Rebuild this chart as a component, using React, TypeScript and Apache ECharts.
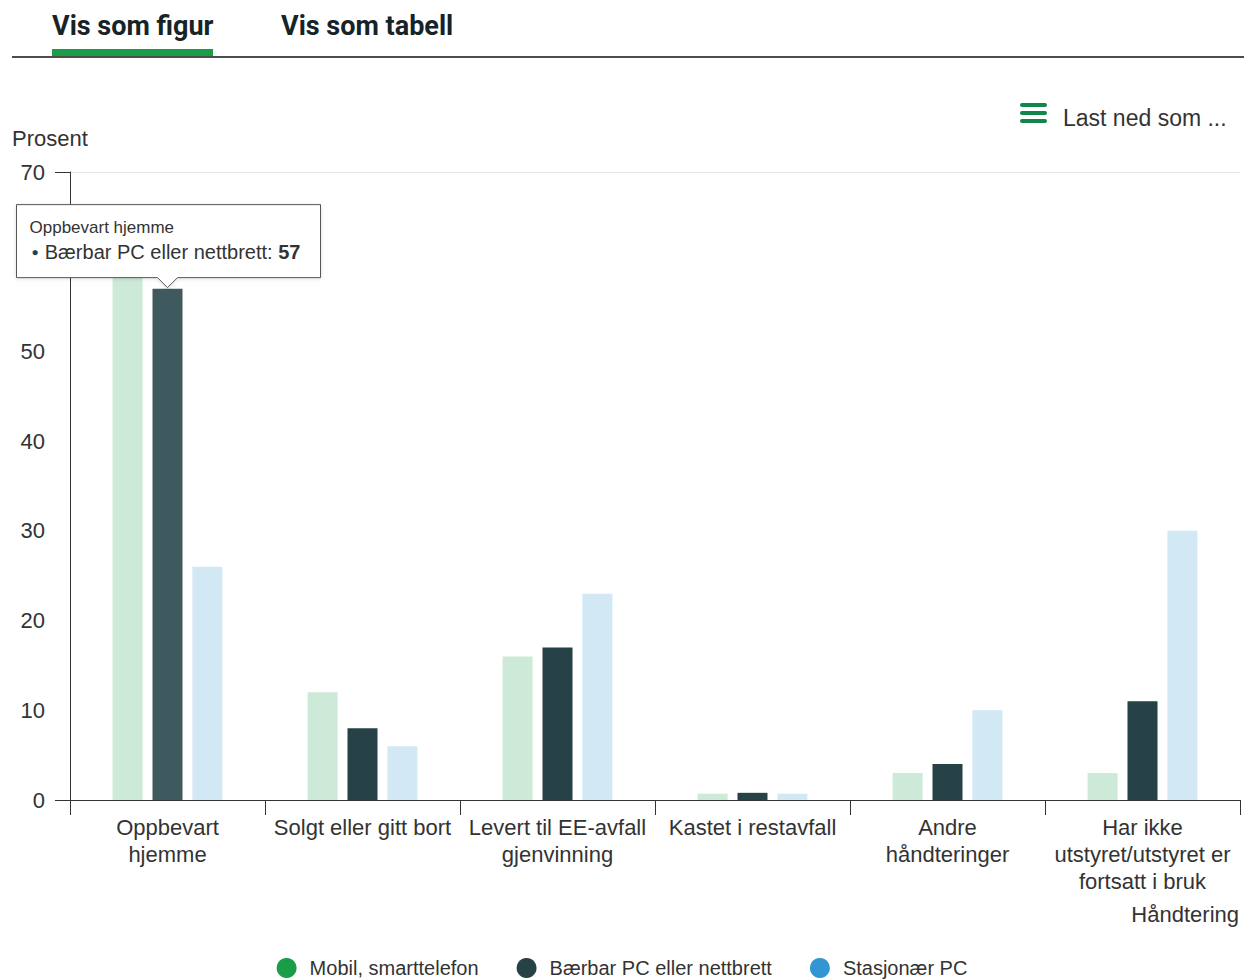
import React, { useEffect, useRef } from "react";
import * as echarts from "echarts";

const categories = [
  "Oppbevart hjemme",
  "Solgt eller gitt bort",
  "Levert til EE-avfall gjenvinning",
  "Kastet i restavfall",
  "Andre håndteringer",
  "Har ikke utstyret/utstyret er fortsatt i bruk",
];
const categoryLabels = [
  "Oppbevart\nhjemme",
  "Solgt eller gitt bort",
  "Levert til EE-avfall\ngjenvinning",
  "Kastet i restavfall",
  "Andre\nhåndteringer",
  "Har ikke\nutstyret/utstyret er\nfortsatt i bruk",
];
const seriesNames = ["Mobil, smarttelefon", "Bærbar PC eller nettbrett", "Stasjonær PC"];
const mobil = [62, 12, 16, 0.7, 3, 3];
const baerbar = [57, 8, 17, 0.8, 4, 11];
const stasjonaer = [26, 6, 23, 0.7, 10, 30];
const colors = ["#1a9d49", "#274247", "#3396d2"];
const yMin = 0;
const yMax = 70;
const yInterval = 10;

const hoverSeries = 1;
const hoverIndex = 0;

const FONT = "'Liberation Sans', Arial, sans-serif";

export default function App() {
  const ref = useRef<HTMLDivElement>(null);
  useEffect(() => {
    document.body.style.margin = "0";
    const chart = echarts.init(ref.current!, null, { renderer: "svg" });
    const values = [mobil, baerbar, stasjonaer];
    chart.setOption({
      animation: false,
      color: colors,
      textStyle: { fontFamily: FONT },
      grid: { left: 70, right: 4, top: 172, bottom: 180, outerBoundsMode: "none", containLabel: false },
      legend: {
        data: seriesNames,
        top: 953,
        left: "center",
        icon: "circle",
        itemWidth: 20,
        itemHeight: 20,
        itemGap: 38,
        selectedMode: false,
        textStyle: { fontSize: 20, color: "#333", fontFamily: FONT, padding: [0, 0, 0, 8] },
      },
      xAxis: {
        type: "category",
        data: categories,
        axisLine: { show: true, lineStyle: { color: "#333", width: 1 } },
        axisTick: { show: true, interval: 0, length: 15, lineStyle: { color: "#333" } },
        axisLabel: {
          interval: 0,
          margin: 14,
          fontSize: 22,
          lineHeight: 27,
          color: "#333",
          fontFamily: FONT,
          formatter: (_v: string, i: number) => categoryLabels[i],
        },
      },
      yAxis: {
        type: "value",
        min: yMin,
        max: yMax,
        interval: yInterval,
        axisLine: { show: true, lineStyle: { color: "#333", width: 1 } },
        axisTick: { show: true, length: 15, customValues: [yMin, yMax], lineStyle: { color: "#333" } },
        axisLabel: { margin: 25, fontSize: 22, color: "#333", fontFamily: FONT },
        splitLine: { show: true, lineStyle: { color: "#e6e6e6", width: 1 } },
      },
      series: values.map((v, si) => ({
        type: "bar",
        name: seriesNames[si],
        data: v,
        barWidth: 30,
        barGap: "33%",
        itemStyle: { color: colors[si] },
        emphasis: { focus: "series", itemStyle: { color: si === 1 ? "#3e5a5f" : colors[si] } },
        blur: { itemStyle: { opacity: 0.22 } },
      })),
    });

    const staticGraphic = [
      { type: "text", left: 52, top: 12, style: { text: "Vis som figur", fontFamily: "Roboto", fontWeight: "bold", fontSize: 27, fill: "#162327" } },
      { type: "text", left: 281, top: 12, style: { text: "Vis som tabell", fontFamily: "Roboto", fontWeight: "bold", fontSize: 27, fill: "#162327" } },
      { type: "rect", shape: { x: 12, y: 56, width: 1232, height: 2 }, style: { fill: "#4d4d4d" } },
      { type: "rect", shape: { x: 52, y: 49, width: 161, height: 7 }, style: { fill: "#1a9d49" } },
      { type: "rect", shape: { x: 1020, y: 103, width: 27, height: 4, r: 2 }, style: { fill: "#12854a" } },
      { type: "rect", shape: { x: 1020, y: 111, width: 27, height: 4, r: 2 }, style: { fill: "#12854a" } },
      { type: "rect", shape: { x: 1020, y: 119, width: 27, height: 4, r: 2 }, style: { fill: "#12854a" } },
      { type: "text", left: 1063, top: 106, style: { text: "Last ned som ...", fontFamily: FONT, fontSize: 23, fill: "#333" } },
      { type: "text", left: 12, top: 127, style: { text: "Prosent", fontFamily: FONT, fontSize: 22, fill: "#333" } },
      { type: "text", right: 5, top: 903, style: { text: "Håndtering", fontFamily: FONT, fontSize: 22, fill: "#333" } },
    ];

    // Tooltip overlay anchored at the hovered bar
    let ax = 0;
    let ay = 0;
    try {
      const layout = (chart as any).getModel().getSeriesByIndex(hoverSeries).getData().getItemLayout(hoverIndex);
      ax = layout.x + layout.width / 2;
      ay = Math.min(layout.y, layout.y + layout.height);
    } catch (e) {
      const p = chart.convertToPixel({ xAxisIndex: 0, yAxisIndex: 0 }, [hoverIndex, values[hoverSeries][hoverIndex]]);
      ax = p[0];
      ay = p[1];
    }
    const boxW = 304;
    const boxH = 73;
    const L = ax - 151;
    const B = ay - 11;
    const T = B - boxH;
    const R = L + boxW;
    const tip = [
      {
        type: "polygon",
        z: 1000,
        shape: { points: [[L, T], [R, T], [R, B], [ax + 10, B], [ax, B + 10], [ax - 10, B], [L, B]] },
        style: { fill: "#ffffff", stroke: "#555", lineWidth: 1, shadowBlur: 4, shadowColor: "rgba(0,0,0,0.12)", shadowOffsetY: 1 },
      },
      {
        type: "text",
        z: 1001,
        x: L + 13,
        y: T + 23,
        style: { text: categories[hoverIndex], fontFamily: FONT, fontSize: 17, fill: "#333", verticalAlign: "middle" },
      },
      {
        type: "text",
        z: 1001,
        x: L + 15,
        y: T + 47,
        style: {
          text: "{d|●}" + seriesNames[hoverSeries] + ": {v|" + values[hoverSeries][hoverIndex] + "}",
          fontFamily: FONT,
          fontSize: 20,
          fill: "#333",
          verticalAlign: "middle",
          rich: {
            d: { fontSize: 12, fill: colors[hoverSeries], fontFamily: FONT, padding: [0, 6, 0, 0] },
            v: { fontSize: 20, fontWeight: "bold", fill: "#333", fontFamily: FONT },
          },
        },
      },
    ];
    chart.setOption({ graphic: [...staticGraphic, ...tip] });
    chart.dispatchAction({ type: "highlight", seriesIndex: hoverSeries, dataIndex: hoverIndex });
    return () => chart.dispose();
  }, []);
  return <div ref={ref} style={{ width: 1244, height: 980 }} />;
}
